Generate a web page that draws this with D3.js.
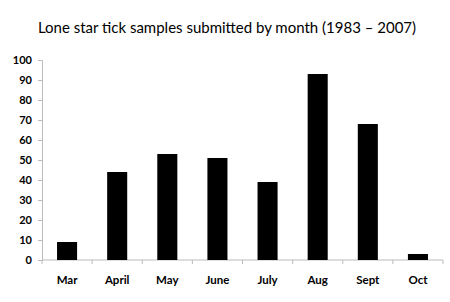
<!DOCTYPE html>
<html>
<head>
<meta charset="utf-8">
<script src="https://cdn.jsdelivr.net/npm/d3@7.9.0/dist/d3.min.js"></script>
<style>
  body { margin: 0; background: #fff; }
  svg { display: block; }
</style>
</head>
<body>
<svg id="chart"></svg>
<script>
// Values
const months = ['Mar', 'April', 'May', 'June', 'July', 'Aug', 'Sept', 'Oct'];
const samples = [9, 44, 53, 51, 39, 93, 68, 3];
const yTicks = [0, 10, 20, 30, 40, 50, 60, 70, 80, 90, 100];
const title = 'Lone star tick samples submitted by month (1983 \u2013 2007)';

const width = 450;
const height = 302;
const margin = { top: 60, right: 7, bottom: 42, left: 42 };
const font = 'Lato, "Open Sans", sans-serif';

const svg = d3.select('#chart').attr('width', width).attr('height', height);

svg.append('text')
  .attr('x', 227)
  .attr('y', 33)
  .attr('text-anchor', 'middle')
  .style('font-family', font)
  .style('font-size', '15px')
  .attr('fill', '#000')
  .text(title);

const xScale = d3.scaleBand()
  .domain(months)
  .range([margin.left, width - margin.right])
  .paddingInner(0.6)
  .paddingOuter(0.3);

const yScale = d3.scaleLinear()
  .domain([0, 100])
  .range([height - margin.bottom, margin.top]);

// y axis
const yAxis = svg.append('g')
  .attr('transform', `translate(${margin.left}, 0)`)
  .call(d3.axisLeft(yScale).tickValues(yTicks).tickSize(4).tickPadding(6));
yAxis.select('.domain').attr('stroke', '#bbb');
yAxis.selectAll('.tick line').attr('stroke', '#bbb');
yAxis.selectAll('.tick text')
  .style('font-family', font)
  .style('font-size', '11px')
  .style('font-weight', 'bold')
  .attr('fill', '#000');

// x axis: ticks at category boundaries
const xBoundary = d3.scaleLinear().domain([0, months.length]).range([margin.left, width - margin.right]);
const xAxis = svg.append('g')
  .attr('transform', `translate(0, ${height - margin.bottom})`);
xAxis.append('line')
  .attr('x1', margin.left).attr('x2', width - margin.right)
  .attr('stroke', '#bbb');
xAxis.selectAll('line.tick')
  .data(d3.range(months.length + 1))
  .join('line')
  .attr('class', 'tick')
  .attr('x1', (d) => xBoundary(d)).attr('x2', (d) => xBoundary(d))
  .attr('y1', 0).attr('y2', 4)
  .attr('stroke', '#bbb');
xAxis.selectAll('text')
  .data(months)
  .join('text')
  .attr('x', (d) => xScale(d) + xScale.bandwidth() / 2)
  .attr('y', 24)
  .attr('text-anchor', 'middle')
  .style('font-family', font)
  .style('font-size', '11.5px')
  .style('font-weight', 'bold')
  .attr('fill', '#000')
  .text((d) => d);

// bars
svg.selectAll('rect.bar')
  .data(samples)
  .join('rect')
  .attr('class', 'bar')
  .attr('x', (d, i) => xScale(months[i]))
  .attr('y', (d) => yScale(d))
  .attr('width', xScale.bandwidth())
  .attr('height', (d) => yScale(0) - yScale(d))
  .attr('fill', '#000');
</script>
</body>
</html>
